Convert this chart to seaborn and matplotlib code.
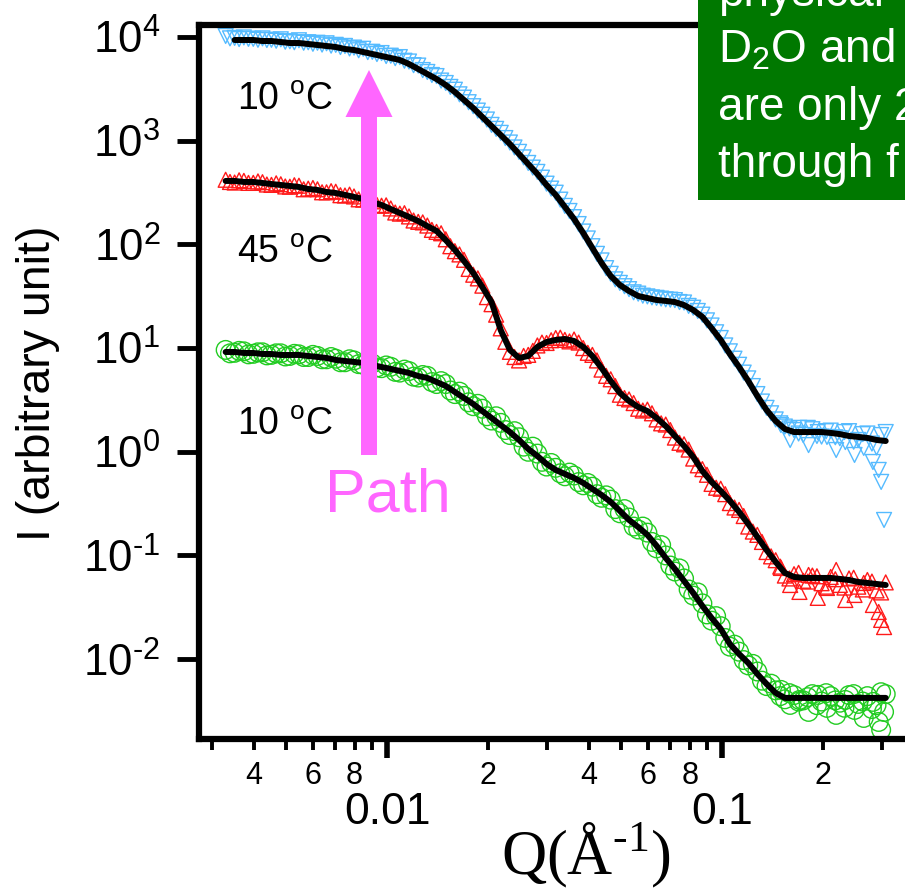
import matplotlib
matplotlib.use("Agg")
import matplotlib.pyplot as plt
from matplotlib.patches import FancyArrow, Rectangle
from matplotlib.ticker import NullLocator
import seaborn as sns

# ── Datos ──────────────────────────────────────────────────────────────────
q = [0.00330, 0.00351, 0.00374, 0.00399, 0.00425, 0.00452, 0.00482, 0.00513, 0.00546, 0.00582,
     0.00620, 0.00660, 0.00703, 0.00749, 0.00797, 0.00849, 0.00904, 0.00963, 0.01026, 0.01092,
     0.01163, 0.01239, 0.01319, 0.01405, 0.01497, 0.01594, 0.01697, 0.01808, 0.01925, 0.02050,
     0.02184, 0.02326, 0.02477, 0.02638, 0.02809, 0.02992, 0.03186, 0.03393, 0.03614, 0.03849,
     0.04099, 0.04365, 0.04649, 0.04951, 0.05273, 0.05616, 0.05981, 0.06370, 0.06784, 0.07225,
     0.07694, 0.08194, 0.08727, 0.09294, 0.09898, 0.1054, 0.1123, 0.1196, 0.1273, 0.1356,
     0.1444, 0.1538, 0.1638, 0.1745, 0.1858, 0.1979, 0.2107, 0.2244, 0.2390, 0.2546,
     0.2711, 0.2887, 0.3075]
# puntos intermedios (segunda configuración del detector)
q_mid = [0.00340, 0.00362, 0.00386, 0.00412, 0.00438, 0.00467, 0.00497, 0.00529, 0.00564, 0.00601,
         0.00640, 0.00681, 0.00726, 0.00773, 0.00823, 0.00876, 0.00933, 0.00994, 0.01058, 0.01127,
         0.01200, 0.01278, 0.01361, 0.01450, 0.01545, 0.01645, 0.01752, 0.01866, 0.01986, 0.02116,
         0.02254, 0.02400, 0.02556, 0.02722, 0.02899, 0.03088, 0.03288, 0.03502, 0.03730, 0.03972,
         0.04230, 0.04505, 0.04798, 0.05110, 0.05442, 0.05796, 0.06172, 0.06574, 0.07001, 0.07456,
         0.07940, 0.08457, 0.09006, 0.09591, 0.1021, 0.1088, 0.1159, 0.1234, 0.1314, 0.1399,
         0.1490, 0.1587, 0.1690, 0.1800, 0.1917, 0.2042, 0.2175, 0.2316, 0.2467, 0.2627,
         0.2797, 0.2979]
q_tail = [0.1497, 0.1595, 0.1700, 0.1810, 0.1928, 0.2054, 0.2188, 0.2330, 0.2482, 0.2644,
          0.2816, 0.2930, 0.2980, 0.3040]

# 10 C (arriba)
i_blue = [10230, 9800, 9900, 9600, 9700, 9400, 9500, 9100, 9300, 8900,
          8800, 8700, 8400, 8200, 7900, 7700, 7200, 7000, 6600, 6400,
          5800, 5300, 4600, 4200, 3600, 3100, 2600, 2150, 1780, 1420,
          1190, 960, 780, 610, 500, 385, 315, 235, 183, 133,
          96, 70, 52, 42.5, 37.0, 33.5, 31.5, 30.5, 29.5, 29.0,
          27.5, 24.5, 21.0, 16.5, 12.5, 9.3, 6.9, 5.1, 3.6, 2.65,
          2.05, 1.75, 1.62, 1.45, 1.65, 1.40, 1.60, 1.35, 1.58, 1.30,
          1.50, 1.10, 1.55]
i_blue_mid = [9700, 9550, 9600, 9400, 9350, 9200, 9000, 8900, 8800, 8600,
              8450, 8250, 8000, 7750, 7450, 7150, 6850, 6550, 6250, 5900,
              5350, 4800, 4300, 3800, 3300, 2800, 2350, 1950, 1600, 1300,
              1060, 860, 690, 550, 440, 345, 270, 210, 157, 114,
              81, 59, 46, 39.5, 34.5, 32, 30.8, 30.0, 29.3, 27.8,
              25.5, 22.8, 18.5, 14.2, 10.6, 7.9, 5.8, 4.3, 3.05, 2.35,
              1.88, 1.68, 1.50, 1.70, 1.42, 1.58, 1.38, 1.55, 1.25, 1.48,
              1.20, 1.45]
i_blue_tail = [1.81, 1.30, 1.70, 1.16, 1.55, 1.39, 1.04, 1.24, 0.932, 1.09,
               0.797, 0.668, 0.512, 0.220]
fit_blue = [9356, 9356, 9356, 9150, 9150, 8950, 8752, 8752, 8560, 8375,
            8188, 8008, 7662, 7491, 7168, 6858, 6559, 6274, 6001, 5490,
            4914, 4398, 3936, 3444, 2948, 2469, 2067, 1693, 1386, 1135,
            929, 744, 596, 478, 374, 300, 230, 176, 129, 92.3,
            66.2, 49.6, 40.6, 35.5, 31.8, 30.4, 29.1, 28.5, 27.8, 26.0,
            23.3, 20.0, 15.6, 11.98, 8.77, 6.57, 4.82, 3.45, 2.53, 1.98,
            1.66, 1.55, 1.55, 1.55, 1.55, 1.52, 1.48, 1.42, 1.39, 1.36,
            1.30, 1.27]

# 45 C
i_red = [420, 395, 410, 392, 398, 375, 380, 360, 368, 345,
         340, 318, 322, 296, 290, 270, 260, 236, 222, 198,
         186, 165, 152, 132, 112, 86, 71, 51, 40, 26.5,
         15.5, 9.2, 7.6, 8.6, 10.6, 11.2, 12.5, 12.0, 12.1, 10.0,
         8.6, 6.2, 5.0, 3.55, 3.2, 2.6, 2.55, 2.05, 1.83, 1.37,
         1.18, 0.86, 0.68, 0.49, 0.44, 0.32, 0.275, 0.19, 0.158, 0.108,
         0.090, 0.064, 0.066, 0.057, 0.064, 0.054, 0.062, 0.052, 0.060, 0.050,
         0.058, 0.046, 0.055]
i_red_mid = [400, 415, 392, 405, 378, 388, 362, 372, 340, 350,
             318, 326, 298, 302, 272, 275, 240, 238, 203, 200,
             170, 163, 138, 128, 96, 80, 58, 47, 31, 21,
             11.5, 8.2, 8.4, 9.4, 11.3, 11.9, 12.6, 11.6, 11.3, 9.0,
             7.6, 5.4, 4.3, 3.3, 2.95, 2.50, 2.35, 1.88, 1.62, 1.22,
             1.05, 0.74, 0.60, 0.45, 0.39, 0.29, 0.24, 0.17, 0.135, 0.098,
             0.078, 0.060, 0.068, 0.056, 0.063, 0.050, 0.059, 0.049, 0.061, 0.047,
             0.056, 0.044]
i_red_tail = [0.0758, 0.0519, 0.0445, 0.0649, 0.0390, 0.0486, 0.0725, 0.0372, 0.0416, 0.0543,
              0.0333, 0.0285, 0.0239, 0.0204]
fit_red = [409, 409, 400, 400, 391, 382, 374, 366, 358, 342,
           335, 320, 313, 300, 287, 274, 256, 240, 219, 201,
           184, 168, 150, 135, 110, 88.3, 69.2, 53.0, 38.8, 27.8,
           14.9, 9.59, 8.03, 8.39, 10.25, 11.45, 11.98, 12.24, 11.71, 10.25,
           8.39, 6.43, 4.82, 3.69, 3.09, 2.70, 2.47, 2.12, 1.77, 1.42,
           1.14, 0.891, 0.653, 0.512, 0.419, 0.336, 0.263, 0.201, 0.151, 0.113,
           0.0866, 0.0678, 0.0621, 0.0607, 0.0607, 0.0607, 0.0607, 0.0594, 0.0580, 0.0555,
           0.0543, 0.0531, 0.0519]

# 10 C (abajo)
i_green = [9.6, 9.0, 9.3, 8.8, 9.1, 8.6, 8.9, 8.4, 8.7, 8.2,
           8.4, 7.8, 7.9, 7.3, 7.6, 6.9, 7.1, 6.4, 6.6, 5.8,
           6.0, 5.2, 5.4, 4.5, 4.5, 3.6, 3.45, 2.75, 2.6, 2.0,
           1.9, 1.45, 1.38, 1.0, 0.96, 0.72, 0.70, 0.58, 0.59, 0.475,
           0.46, 0.36, 0.345, 0.255, 0.232, 0.178, 0.166, 0.117, 0.100, 0.070,
           0.060, 0.041, 0.0345, 0.0235, 0.0208, 0.0132, 0.0118, 0.0087, 0.0076, 0.0055,
           0.0050, 0.0041, 0.0045, 0.0040, 0.0046, 0.0039, 0.0044, 0.0038, 0.0045, 0.0037,
           0.0044, 0.0036, 0.0046]
i_green_mid = [8.9, 9.4, 8.7, 9.1, 8.5, 8.9, 8.3, 8.8, 8.2, 8.6,
               7.8, 8.2, 7.3, 7.8, 7.0, 7.4, 6.5, 6.8, 5.9, 6.2,
               5.3, 5.5, 4.7, 4.8, 3.9, 3.8, 3.0, 2.9, 2.2, 2.2,
               1.62, 1.58, 1.12, 1.12, 0.80, 0.78, 0.62, 0.63, 0.51, 0.50,
               0.39, 0.38, 0.28, 0.28, 0.19, 0.19, 0.135, 0.126, 0.080, 0.075,
               0.047, 0.044, 0.027, 0.026, 0.0160, 0.0138, 0.0098, 0.0090, 0.0062, 0.0058,
               0.0044, 0.0047, 0.0039, 0.0043, 0.0036, 0.0047, 0.0040, 0.0034, 0.0046, 0.0039,
               0.0033, 0.0048]
i_green_tail = [0.00505, 0.00362, 0.00404, 0.00310, 0.00452, 0.00339, 0.00290, 0.00404, 0.00324, 0.00271,
                0.00387, 0.00248, 0.00208, 0.00310]
fit_green = [9.17, 9.17, 8.97, 8.97, 8.77, 8.77, 8.58, 8.58, 8.58, 8.39,
             8.21, 8.03, 7.68, 7.51, 7.35, 7.19, 6.87, 6.57, 6.29, 6.02,
             5.75, 5.38, 5.15, 4.71, 4.31, 3.77, 3.30, 2.89, 2.47, 2.12,
             1.81, 1.55, 1.30, 1.064, 0.911, 0.763, 0.668, 0.611, 0.559, 0.501,
             0.438, 0.383, 0.328, 0.269, 0.220, 0.188, 0.158, 0.124, 0.0946, 0.0741,
             0.0568, 0.0435, 0.0326, 0.0250, 0.0196, 0.0140, 0.0112, 0.00919, 0.00720, 0.00577,
             0.00472, 0.00423, 0.00423, 0.00423, 0.00423, 0.00423, 0.00423, 0.00423, 0.00423, 0.00423,
             0.00423, 0.00423, 0.00423]

y_ticks = [1e-2, 1e-1, 1e0, 1e1, 1e2, 1e3, 1e4]
y_exps = ["\u20102", "\u20101", "0", "1", "2", "3", "4"]
x_major = [0.01, 0.1]
x_major_labels = ["0.01", "0.1"]
x_minor = [0.003, 0.004, 0.005, 0.006, 0.007, 0.008, 0.009,
           0.02, 0.03, 0.04, 0.05, 0.06, 0.07, 0.08, 0.09, 0.2, 0.3]
x_minor_labels = ["", "4", "", "6", "", "8", "",
                  "2", "", "4", "", "6", "", "8", "", "2", ""]

# ── Estilo ─────────────────────────────────────────────────────────────────
sns.set_theme(style="white")
plt.rcParams["font.family"] = ["Liberation Sans", "DejaVu Sans"]
plt.rcParams["mathtext.fontset"] = "custom"
plt.rcParams["mathtext.rm"] = "Liberation Sans"
plt.rcParams["mathtext.it"] = "Liberation Sans:italic"
plt.rcParams["mathtext.bf"] = "Liberation Sans:bold"
plt.rcParams["text.color"] = "black"
plt.rcParams["axes.labelcolor"] = "black"
plt.rcParams["xtick.color"] = "black"
plt.rcParams["ytick.color"] = "black"

W, H = 905, 890
fig = plt.figure(figsize=(W / 100, H / 100), dpi=100)
ax = fig.add_axes([199 / W, 1 - 739 / H, 725 / W, 714 / H])
ax.set_xscale("log")
ax.set_yscale("log")

c_blue, c_red, c_green = "#55BBFF", "#FF1A1A", "#22CC22"

series = [(i_blue, i_blue_mid, i_blue_tail, "v", 115, c_blue),
          (i_red, i_red_mid, i_red_tail, "^", 115, c_red),
          (i_green, i_green_mid, i_green_tail, "o", 180, c_green)]
for vals, mids, tail, mk, size, col in series:
    sns.scatterplot(x=q + q_mid + q_tail, y=vals + mids + tail, marker=mk, s=size,
                    facecolor="none", edgecolor=col, color=col, linewidth=1.0, ax=ax)

for xs, ys in [(q[1:], fit_blue), (q, fit_red), (q, fit_green)]:
    sns.lineplot(x=xs, y=ys, color="black", linewidth=4.3, estimator=None,
                 sort=False, ax=ax, zorder=3)

ax.set_xlim(0.002748, 0.40)
ax.set_ylim(0.001698, 13055)

for s in ["left", "bottom", "top"]:
    ax.spines[s].set_linewidth(4.5)
    ax.spines[s].set_color("black")
ax.spines["right"].set_visible(False)

ax.set_yticks(y_ticks, labels=[r"$\mathregular{10^{%s}}$" % e for e in y_exps])
ax.yaxis.set_minor_locator(NullLocator())
ax.tick_params(axis="y", which="major", direction="out", length=16, width=3.5,
               labelsize=31.5, pad=12, left=True)

ax.set_xticks(x_major, labels=x_major_labels)
ax.set_xticks(x_minor, labels=x_minor_labels, minor=True)
ax.tick_params(axis="x", which="major", direction="out", length=14, width=4,
               labelsize=32, pad=24, bottom=True)
ax.tick_params(axis="x", which="minor", direction="out", length=8, width=2.8,
               labelsize=22, pad=8, bottom=True)
ax.set_xlabel("")
ax.set_ylabel("")

# ── Textos ─────────────────────────────────────────────────────────────────
fig.text(38 / W, 1 - 383 / H, "I (arbitrary unit)", rotation=90, fontsize=33.5,
         ha="center", va="center")
fig.text(586 / W, 1 - 855 / H, "Q(Å$^{\\mathregular{\u20101}}$)", fontsize=45,
         family="Liberation Serif", ha="center", va="center")

for yb, lab in [(110, "10"), (263, "45"), (435, "10")]:
    fig.text(237 / W, 1 - yb / H, lab + r" $^{\mathregular{o}}$C", fontsize=27,
             ha="left", va="baseline")

arrow = FancyArrow(3.69, (H - 455) / 100, 0, 3.85, width=0.16, head_width=0.47,
                   head_length=0.47, length_includes_head=True,
                   transform=fig.dpi_scale_trans, color="#FF66FF", lw=0, zorder=4)
fig.add_artist(arrow)
fig.text(388 / W, 1 - 512 / H, "Path", color="#FF66FF", fontsize=44,
         ha="center", va="baseline")

box = Rectangle((698 / W, 1 - 200 / H), 1 - 698 / W + 0.01, 200 / H + 0.01,
                transform=fig.transFigure, facecolor="#007800", edgecolor="none", zorder=5)
fig.add_artist(box)
for yb, line in [(6, "physical"), (63, r"D$_{\mathregular{2}}$O and"),
                 (120, "are only 2"), (177, "through f")]:
    fig.text(718 / W, 1 - yb / H, line, color="white", fontsize=33,
             ha="left", va="baseline", zorder=6)

fig.savefig("out.png", dpi=100)
plt.close()
